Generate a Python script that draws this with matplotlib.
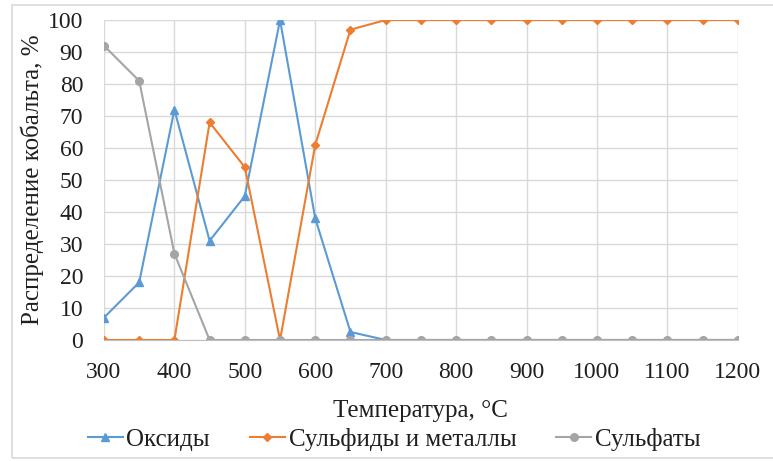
# Cobalt distribution between phases vs. roasting temperature.

import matplotlib.pyplot as plt
from matplotlib.patches import Rectangle

temps = [300, 350, 400, 450, 500, 550, 600, 650, 700, 750, 800, 850, 900,
         950, 1000, 1050, 1100, 1150, 1200]
oxides = [7, 18, 72, 31, 45, 100, 38, 2.5, 0, 0, 0, 0, 0, 0, 0, 0, 0, 0, 0]
sulfides = [0, 0, 0, 68, 54, 0, 61, 97, 100, 100, 100, 100, 100, 100, 100,
            100, 100, 100, 100]
sulfates = [92, 81, 27, 0, 0, 0, 0, 0, 0, 0, 0, 0, 0, 0, 0, 0, 0, 0, 0]

plt.rcParams['font.family'] = ['Liberation Serif', 'DejaVu Serif']
text_color = '#1F1F1F'

fig = plt.figure(figsize=(7.73, 4.61), dpi=100)
ax = fig.add_axes([0.1345, 0.2625, 0.82, 0.694])

ax.plot(temps, oxides, color='#5B9BD5', marker='^', markersize=6, linewidth=1.5,
        label='Оксиды')
ax.plot(temps, sulfides, color='#ED7D31', marker='D', markersize=4.5, linewidth=1.5,
        label='Сульфиды и металлы')
ax.plot(temps, sulfates, color='#A5A5A5', marker='o', markersize=5.5, linewidth=1.5,
        label='Сульфаты')

ax.set_xlim(300, 1200)
ax.set_ylim(0, 100)
ax.set_xticks(range(300, 1201, 100))
ax.set_yticks(range(0, 101, 10))
ax.grid(True, color='#D9D9D9', linewidth=1)
ax.set_axisbelow(True)
for side in ['top', 'right', 'left']:
  ax.spines[side].set_visible(False)
ax.spines['bottom'].set_color('#BFBFBF')
ax.tick_params(axis='x', length=0, labelsize=17, colors=text_color, pad=16)
ax.tick_params(axis='y', length=0, labelsize=17, colors=text_color, pad=15)

ax.set_xlabel('Температура, °C', fontsize=18, color=text_color, labelpad=12)
ax.set_ylabel('Распределение кобальта, %', fontsize=18, color=text_color, labelpad=3)

fig.legend(loc='center', bbox_to_anchor=(0.51, 0.047), ncol=3, frameon=False,
           fontsize=18, handlelength=1.4, handletextpad=0.15, columnspacing=1.6,
           labelcolor=text_color)

# light frame round the chart area
fig.patches.append(Rectangle((12 / 773, 3 / 461), 1.0, 453 / 461,
                             transform=fig.transFigure, fill=False,
                             edgecolor='#D9D9D9', linewidth=1.2))

fig.savefig('out.png', dpi=100)
